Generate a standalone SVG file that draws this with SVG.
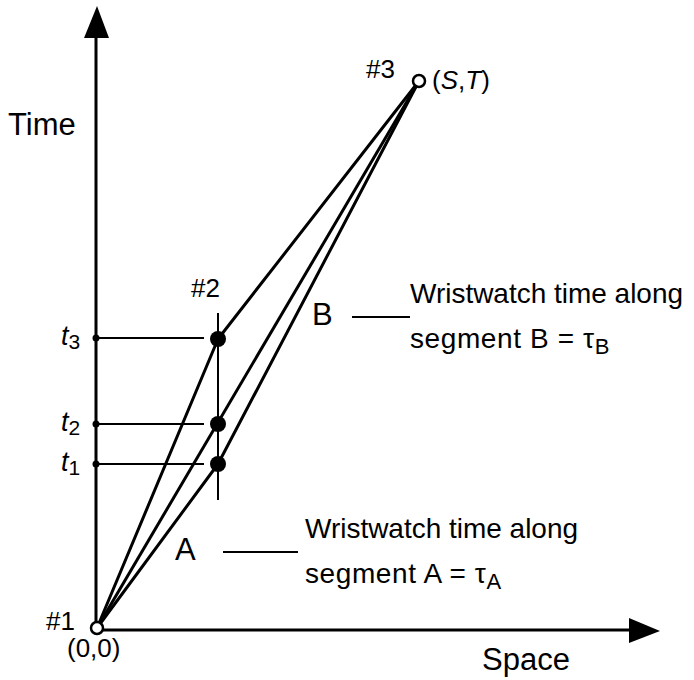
<svg xmlns="http://www.w3.org/2000/svg" width="694" height="680" viewBox="0 0 694 680">
<style>
  text { font-family: "Liberation Sans", Arial, sans-serif; fill: #000; }
  .lab { font-size: 31px; }
  .txt { font-size: 28px; }
  .num { font-size: 26px; }
  .ax { stroke: #000; stroke-width: 3; fill: none; }
  .path { stroke: #000; stroke-width: 3; fill: none; stroke-linejoin: round; }
  .thin { stroke: #000; stroke-width: 2; fill: none; }
  .ev { fill: #fff; stroke: #000; stroke-width: 2.5; }
  .dot { fill: #000; }
</style>
<rect width="694" height="680" fill="#fff"/>
<g id="axes">
  <line class="ax" x1="96" y1="630" x2="96" y2="36"/>
  <polygon points="97,6 84,38 109,38" fill="#000"/>
  <line class="ax" x1="96" y1="630" x2="632" y2="630"/>
  <polygon points="660,631 629,618 629,643" fill="#000"/>
  <text class="lab" x="8" y="135">Time</text>
  <text class="lab" x="482" y="670">Space</text>
</g>
<g id="ticks">
  <line class="thin" x1="96" y1="338" x2="204" y2="338"/>
  <line class="thin" x1="96" y1="424" x2="204" y2="424"/>
  <line class="thin" x1="96" y1="464" x2="204" y2="464"/>
  <circle class="dot" cx="96" cy="338" r="3.5"/>
  <circle class="dot" cx="96" cy="424" r="3.5"/>
  <circle class="dot" cx="96" cy="464" r="3.5"/>
  <text x="61" y="345" font-size="27" font-style="italic">t<tspan font-size="21" font-style="normal" dy="4">3</tspan></text>
  <text x="61" y="431" font-size="27" font-style="italic">t<tspan font-size="21" font-style="normal" dy="4">2</tspan></text>
  <text x="61" y="471" font-size="27" font-style="italic">t<tspan font-size="21" font-style="normal" dy="4">1</tspan></text>
</g>
<g id="connectors">
  <polyline class="path" points="97,628 218,339 419,81"/>
  <polyline class="path" points="97,628 419,81"/>
  <polyline class="path" points="97,628 218,464 419,81"/>
  <line class="thin" x1="218" y1="313" x2="218" y2="500"/>
  <line class="thin" x1="352" y1="317" x2="410" y2="317"/>
  <line class="thin" x1="223" y1="552" x2="298" y2="552"/>
</g>
<g id="n1">
  <circle class="ev" cx="97" cy="628" r="6"/>
  <text class="num" x="46" y="630">#1</text>
  <text class="num" x="67" y="657">(0,0)</text>
</g>
<g id="n2">
  <circle class="dot" cx="218" cy="339" r="8"/>
  <circle class="dot" cx="218" cy="424" r="8"/>
  <circle class="dot" cx="218" cy="464" r="8"/>
  <text class="num" x="191" y="297">#2</text>
</g>
<g id="n3">
  <circle class="ev" cx="419" cy="81" r="6"/>
  <text class="num" x="366" y="78">#3</text>
  <text class="num" x="432" y="89">(<tspan font-style="italic">S</tspan>,<tspan font-style="italic">T</tspan>)</text>
</g>
<g id="labelB">
  <text class="lab" x="312" y="325">B</text>
  <text class="txt" x="410" y="303" textLength="273" lengthAdjust="spacingAndGlyphs">Wristwatch time along</text>
  <text class="txt" x="410" y="348" letter-spacing="0.6">segment B = τ<tspan font-size="22" dy="6">B</tspan></text>
</g>
<g id="labelA">
  <text class="lab" x="175" y="560">A</text>
  <text class="txt" x="305" y="538" textLength="273" lengthAdjust="spacingAndGlyphs">Wristwatch time along</text>
  <text class="txt" x="305" y="583" letter-spacing="0.6">segment A = τ<tspan font-size="22" dy="6">A</tspan></text>
</g>
</svg>
